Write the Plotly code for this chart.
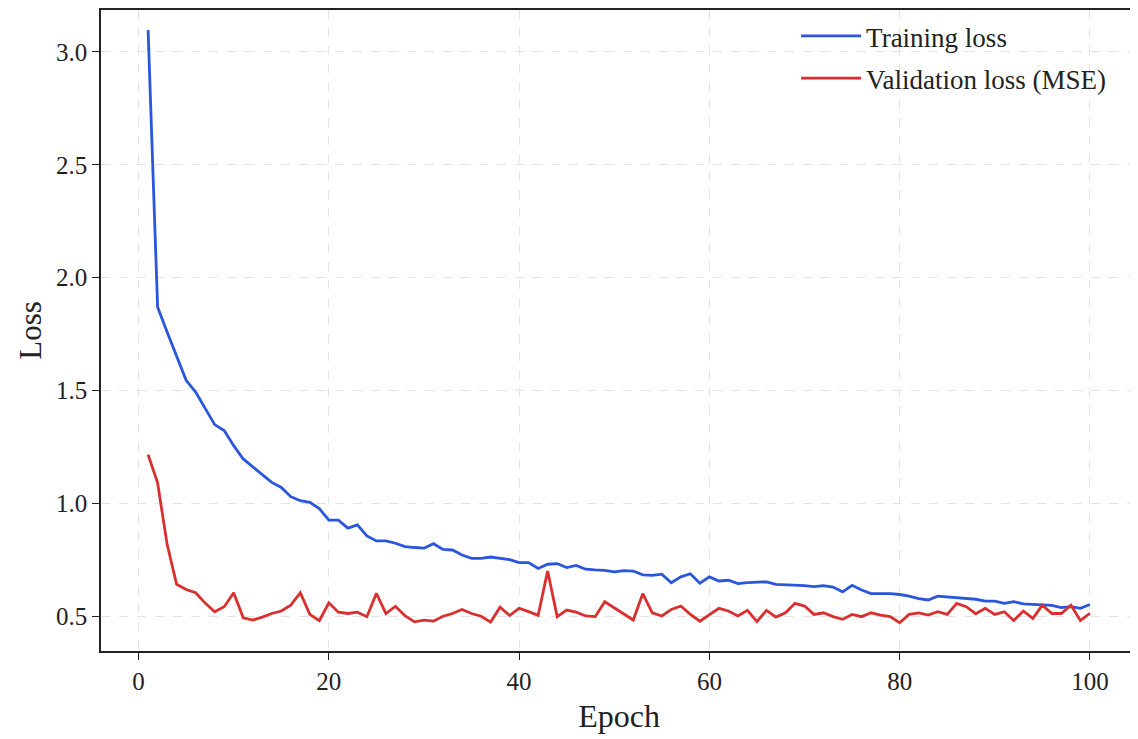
import plotly.graph_objects as go

epochs = list(range(1, 101))

training_loss = [
    3.096, 1.871, 1.76, 1.656, 1.546, 1.494, 1.42, 1.35, 1.324, 1.257,
    1.198, 1.164, 1.131, 1.094, 1.072, 1.031, 1.013, 1.006, 0.978, 0.927,
    0.927, 0.892, 0.906, 0.857, 0.835, 0.835, 0.825, 0.81, 0.806, 0.803,
    0.823, 0.798, 0.795, 0.773, 0.758, 0.758, 0.764, 0.758, 0.752, 0.739,
    0.739, 0.713, 0.732, 0.735, 0.717, 0.727, 0.71, 0.707, 0.705, 0.698,
    0.704, 0.702, 0.685, 0.683, 0.688, 0.65, 0.676, 0.69, 0.648, 0.676,
    0.658, 0.661, 0.646, 0.651, 0.652, 0.654, 0.643, 0.642, 0.64, 0.637,
    0.633, 0.637, 0.631, 0.61, 0.639, 0.618, 0.602, 0.603, 0.602, 0.598,
    0.591, 0.58, 0.574, 0.591, 0.587, 0.584, 0.58, 0.577, 0.569, 0.569,
    0.559, 0.566, 0.557, 0.554, 0.55, 0.55, 0.54, 0.544, 0.537, 0.554,
]

validation_loss = [
    1.217, 1.092, 0.82, 0.643, 0.62, 0.606, 0.56, 0.522, 0.544, 0.606,
    0.495, 0.485, 0.498, 0.514, 0.525, 0.551, 0.606, 0.51, 0.482, 0.561,
    0.52, 0.514, 0.52, 0.5, 0.603, 0.514, 0.546, 0.504, 0.477, 0.485,
    0.48, 0.502, 0.514, 0.532, 0.514, 0.502, 0.476, 0.542, 0.505, 0.537,
    0.522, 0.506, 0.702, 0.5, 0.529, 0.52, 0.503, 0.5, 0.566, 0.54,
    0.513, 0.485, 0.602, 0.517, 0.503, 0.532, 0.547, 0.51, 0.48, 0.507,
    0.537, 0.525, 0.503, 0.528, 0.478, 0.528, 0.498, 0.517, 0.559, 0.547,
    0.51, 0.517, 0.5, 0.488, 0.51, 0.5, 0.517, 0.507, 0.5, 0.473,
    0.51, 0.517, 0.507, 0.522, 0.51, 0.559, 0.544, 0.513, 0.537, 0.51,
    0.522, 0.483, 0.525, 0.492, 0.551, 0.514, 0.514, 0.551, 0.483, 0.514,
]

x_ticks = [0, 20, 40, 60, 80, 100]
y_ticks = [0.5, 1.0, 1.5, 2.0, 2.5, 3.0]

FONT = "Liberation Serif"

fig = go.Figure()
fig.add_trace(go.Scatter(x=epochs, y=training_loss, mode="lines", name="Training loss",
                         legendgroup="a", line=dict(color="#2a56de", width=2.8)))
fig.add_trace(go.Scatter(x=epochs, y=validation_loss, mode="lines", name="Validation loss (MSE)",
                         legendgroup="b", line=dict(color="#d9302f", width=2.8)))

axis_common = dict(
    showline=True, linecolor="#222", linewidth=1.5, mirror=True,
    ticks="outside", ticklen=7, tickwidth=1.2, tickcolor="#222",
    showgrid=True, gridcolor="#e4e4e4", griddash="dash", gridwidth=1,
    zeroline=False, tickfont=dict(family=FONT, size=25, color="#222"),
)

fig.update_layout(
    width=1138, height=739,
    margin=dict(l=93, r=9, t=0, b=96),
    paper_bgcolor="white", plot_bgcolor="white",
    font=dict(family=FONT, color="#222"),
    xaxis=dict(range=[-3.95, 104.95], tickvals=x_ticks,
               title=dict(text="Epoch", font=dict(family=FONT, size=32), standoff=11),
               **axis_common),
    yaxis=dict(range=[0.348, 3.185], tickvals=y_ticks, tickformat=".1f",
               title=dict(text="Loss", font=dict(family=FONT, size=31), standoff=5),
               **axis_common),
    legend=dict(x=0.975, y=0.997, xanchor="right", yanchor="top",
                bgcolor="rgba(255,255,255,0)", borderwidth=0,
                font=dict(family=FONT, size=27, color="#222"),
                itemwidth=60, tracegroupgap=4, traceorder="grouped"),
    showlegend=True,
)

fig.write_html("out.html")
